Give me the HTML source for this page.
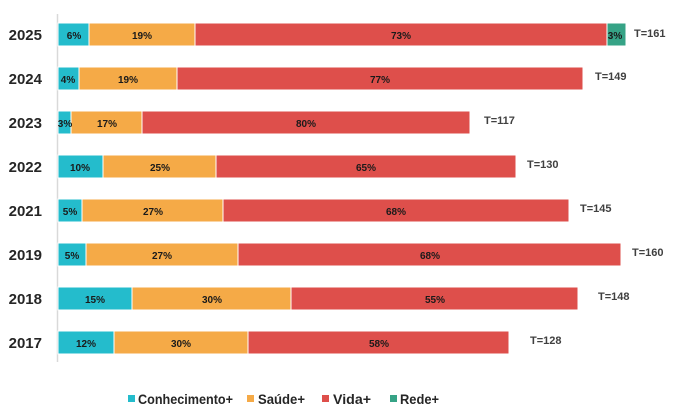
<!DOCTYPE html><html><head><style>body{margin:0;background:#fff}svg{display:block;font-family:"Liberation Sans",Arial,sans-serif}</style></head><body>
<svg width="677" height="411" xmlns="http://www.w3.org/2000/svg">
<line x1="57.5" y1="14" x2="57.5" y2="362" stroke="#d9d9d9" stroke-width="1.5"/>
<g font-size="15" font-weight="bold" fill="#262626" text-anchor="end">
<text x="42" y="40">2025</text><text x="42" y="84">2024</text><text x="42" y="128">2023</text><text x="42" y="172">2022</text><text x="42" y="216">2021</text><text x="42" y="260">2019</text><text x="42" y="304">2018</text><text x="42" y="348">2017</text></g>
<g stroke="#fff" stroke-width="1">
<rect x="58" y="23" width="31" height="23" fill="#24bccc"/><rect x="89" y="23" width="106" height="23" fill="#f5aa47"/><rect x="195" y="23" width="412" height="23" fill="#de4f4b"/><rect x="607" y="23" width="19" height="23" fill="#36a386"/>
<rect x="58" y="67" width="21" height="23" fill="#24bccc"/><rect x="79" y="67" width="98" height="23" fill="#f5aa47"/><rect x="177" y="67" width="406" height="23" fill="#de4f4b"/>
<rect x="58" y="111" width="13" height="23" fill="#24bccc"/><rect x="71" y="111" width="71" height="23" fill="#f5aa47"/><rect x="142" y="111" width="328" height="23" fill="#de4f4b"/>
<rect x="58" y="155" width="45" height="23" fill="#24bccc"/><rect x="103" y="155" width="113" height="23" fill="#f5aa47"/><rect x="216" y="155" width="300" height="23" fill="#de4f4b"/>
<rect x="58" y="199" width="24" height="23" fill="#24bccc"/><rect x="82" y="199" width="141" height="23" fill="#f5aa47"/><rect x="223" y="199" width="346" height="23" fill="#de4f4b"/>
<rect x="58" y="243" width="28" height="23" fill="#24bccc"/><rect x="86" y="243" width="152" height="23" fill="#f5aa47"/><rect x="238" y="243" width="383" height="23" fill="#de4f4b"/>
<rect x="58" y="287" width="74" height="23" fill="#24bccc"/><rect x="132" y="287" width="159" height="23" fill="#f5aa47"/><rect x="291" y="287" width="287" height="23" fill="#de4f4b"/>
<rect x="58" y="331" width="56" height="23" fill="#24bccc"/><rect x="114" y="331" width="134" height="23" fill="#f5aa47"/><rect x="248" y="331" width="261" height="23" fill="#de4f4b"/>
</g>
<g font-size="10" font-weight="bold" fill="#1a1a1a" text-anchor="middle">
<text x="74" y="39">6%</text><text x="142" y="39">19%</text><text x="401" y="39">73%</text><text x="615" y="39">3%</text>
<text x="68" y="83">4%</text><text x="128" y="83">19%</text><text x="380" y="83">77%</text>
<text x="65" y="127">3%</text><text x="107" y="127">17%</text><text x="306" y="127">80%</text>
<text x="80" y="171">10%</text><text x="160" y="171">25%</text><text x="366" y="171">65%</text>
<text x="70" y="215">5%</text><text x="153" y="215">27%</text><text x="396" y="215">68%</text>
<text x="72" y="259">5%</text><text x="162" y="259">27%</text><text x="430" y="259">68%</text>
<text x="95" y="303">15%</text><text x="212" y="303">30%</text><text x="435" y="303">55%</text>
<text x="86" y="347">12%</text><text x="181" y="347">30%</text><text x="379" y="347">58%</text>
</g>
<g font-size="11" font-weight="bold" fill="#404040">
<text x="634" y="37">T=161</text><text x="595" y="80">T=149</text><text x="484" y="124">T=117</text><text x="527" y="168">T=130</text><text x="580" y="212">T=145</text><text x="632" y="256">T=160</text><text x="598" y="300">T=148</text><text x="530" y="344">T=128</text>
</g>
<g font-size="14" fill="#262626" font-weight="bold">
<rect x="128" y="395" width="7" height="7" fill="#24bccc"/><text x="138" y="404" textLength="95" lengthAdjust="spacingAndGlyphs">Conhecimento+</text>
<rect x="247" y="395" width="7" height="7" fill="#f5aa47"/><text x="258" y="404" textLength="47" lengthAdjust="spacingAndGlyphs">Saúde+</text>
<rect x="322" y="395" width="7" height="7" fill="#de4f4b"/><text x="333" y="404" textLength="38" lengthAdjust="spacingAndGlyphs">Vida+</text>
<rect x="390" y="395" width="7" height="7" fill="#36a386"/><text x="400" y="404" textLength="39" lengthAdjust="spacingAndGlyphs">Rede+</text>
</g>
</svg>
</body></html>
